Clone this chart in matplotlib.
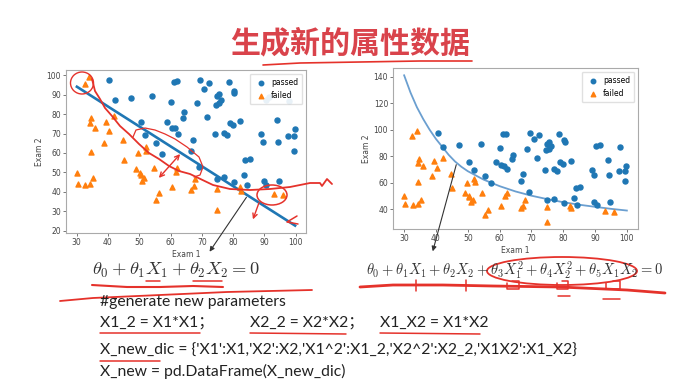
import numpy as np
import matplotlib
matplotlib.use("Agg")
import matplotlib.pyplot as plt
from matplotlib.patches import Ellipse

plt.rcParams['mathtext.fontset'] = 'cm'

# exam scores (ex2data1-like)
exam1 = [34.6, 30.3, 35.8, 60.2, 79.0, 45.1, 61.1, 75.0, 76.1, 84.4,
         95.9, 75.0, 82.3, 69.4, 39.5, 54.0, 69.1, 67.9, 70.7, 77.0,
         67.4, 89.7, 50.5, 34.2, 77.9, 62.3, 80.2, 93.1, 61.8, 38.8,
         61.4, 85.4, 52.1, 52.0, 40.2, 54.6, 33.9, 64.2, 74.8, 34.2,
         83.9, 51.5, 94.4, 82.4, 51.0, 62.2, 77.2, 97.8, 62.1, 91.6,
         79.9, 99.3, 90.5, 34.5, 50.3, 49.6, 97.6, 32.6, 74.2, 71.8,
         75.4, 35.3, 56.3, 30.1, 44.7, 66.6, 40.5, 49.1, 80.3, 66.7,
         32.7, 64.0, 72.3, 60.5, 58.8, 99.8, 47.3, 50.5, 60.5, 82.2,
         88.9, 94.8, 67.3, 57.2, 80.4, 68.5, 42.1, 75.5, 78.6, 52.3,
         94.1, 90.4, 55.5, 74.5, 89.8, 83.5, 42.3, 99.3, 55.3, 74.8]
exam2 = [78.0, 43.9, 72.9, 86.3, 75.3, 56.3, 96.5, 46.6, 87.4, 43.5,
         38.2, 30.6, 76.5, 97.7, 76.0, 89.2, 52.7, 46.7, 92.9, 47.6,
         42.8, 65.8, 48.9, 44.2, 69.0, 70.0, 44.8, 38.8, 50.3, 65.0,
         72.8, 57.1, 63.1, 69.4, 71.2, 52.2, 98.9, 80.9, 41.6, 75.2,
         56.3, 46.9, 65.6, 40.6, 45.8, 52.1, 70.5, 86.7, 96.8, 88.7,
         74.2, 61.0, 43.4, 60.4, 49.8, 59.8, 68.9, 95.6, 69.8, 78.5,
         85.8, 47.0, 39.3, 49.6, 66.5, 41.1, 97.5, 51.9, 92.1, 61.0,
         43.3, 78.0, 96.2, 73.1, 75.9, 72.4, 88.5, 75.8, 42.5, 42.7,
         69.8, 45.7, 66.6, 59.5, 91.0, 85.6, 78.8, 90.4, 96.6, 60.8,
         77.2, 87.5, 35.6, 84.8, 45.4, 48.4, 87.1, 68.8, 64.9, 89.5]
passed = [0,0,0,1,1,0,1,1,1,1, 0,0,1,1,0,1,1,0,1,1, 0,1,0,0,1,1,1,0,0,0,
          1,1,0,1,0,0,0,1,0,0, 1,0,1,0,0,0,1,1,1,1, 1,1,1,0,0,0,1,0,1,1,
          1,0,0,0,0,0,1,0,1,1, 0,1,1,1,1,1,1,1,0,0, 1,1,1,1,1,1,0,1,1,0,
          1,1,0,1,1,1,1,1,1,1]

# linear boundary (left) and 2nd-order boundary (right)
lin_x = [30.1, 99.8]
lin_y = [94.1, 22.6]
curve_x = [30, 32, 34, 36, 38, 40, 42, 44, 46, 48, 50, 55, 60, 65, 70, 75, 80, 85, 90, 95, 100]
curve_y = [141, 128, 117, 108, 100, 93, 87, 81, 76, 72, 68.7, 62.3, 57.4, 53.4, 50.2, 47.6, 45.3, 43.4, 41.8, 40.3, 39]

title = "生成新的属性数据"
eq_left = r"$\theta_0+\theta_1X_1+\theta_2X_2=0$"
eq_right = r"$\theta_0+\theta_1X_1+\theta_2X_2+\theta_3X_1^2+\theta_4X_2^2+\theta_5X_1X_2=0$"
code_lines = ["#generate new parameters",
              "X_new_dic = {'X1':X1,'X2':X2,'X1^2':X1_2,'X2^2':X2_2,'X1X2':X1_X2}",
              "X_new = pd.DataFrame(X_new_dic)"]
code_row = ["X1_2 = X1*X1；", "X2_2 = X2*X2；", "X1_X2 = X1*X2"]

# hand-drawn red ink, in screen pixels (x right, y down)
ink_title = [(263, 65), (300, 63), (360, 62), (420, 61), (472, 61)]
ink_curve = [(92, 79), (95, 91), (100, 99), (105, 108), (112, 116), (120, 126), (129, 134),
             (139, 144), (149, 153), (159, 159), (169, 166), (179, 171), (190, 174),
             (213, 185), (230, 189), (250, 190), (270, 189), (290, 187), (310, 183),
             (320, 183), (322, 186), (327, 179), (332, 184)]
ink_loop = [(133, 137), (136, 130), (145, 128), (155, 130), (165, 134), (175, 139),
            (187, 147), (199, 157), (203, 167), (200, 175), (194, 177)]
ink_end = [(297, 216), (287, 222), (298, 224)]
ink_eq_left = [(92, 285), (127, 287), (160, 287), (193, 286), (223, 287)]
ink_eq_left2 = [(60, 301), (93, 298), (160, 295), (227, 292), (312, 290)]
ink_x1 = [(146, 281), (160, 281)]
ink_x2 = [(193, 281), (222, 281)]
ink_eq_right = [(360, 287), (393, 285), (443, 285), (493, 286), (560, 287), (627, 290), (665, 293)]
ink_ticks = [[(416, 280), (416, 291)], [(466, 280), (466, 291)]]
ink_boxes = [[(507, 283), (507, 289), (519, 289), (519, 281), (512, 281)],
             [(557, 283), (557, 289), (568, 289), (568, 281), (562, 281)],
             [(606, 283), (606, 289), (620, 289), (620, 281), (613, 281)]]
ink_small = [[(558, 296), (570, 296)], [(603, 299), (620, 299)]]
ink_code = [[(100, 333), (200, 333)], [(250, 333), (346, 334)],
            [(380, 333), (480, 334)], [(100, 361), (160, 361)]]
red = '#e5322b'

fig = plt.figure(figsize=(6.78, 3.86), dpi=100)
fig.patch.set_facecolor('white')

x1 = np.array(exam1)
x2 = np.array(exam2)
ok = np.array(passed) == 1


def scatter_panel(ax):
    ax.scatter(x1[ok], x2[ok], s=13, c='#1f77b4', marker='o', label='passed', zorder=3)
    ax.scatter(x1[~ok], x2[~ok], s=13, c='#ff7f0e', marker='^', label='failed', zorder=3)
    ax.set_xlabel('Exam 1', fontsize=5.5, labelpad=2, color='#444444')
    ax.set_ylabel('Exam 2', fontsize=5.5, labelpad=2, color='#444444')
    ax.tick_params(labelsize=5.5, length=2, width=0.5, pad=1.5, colors='#444444')
    for s in ax.spines.values():
        s.set_color('#aaaaaa')
        s.set_linewidth(0.8)
    ax.legend(loc='upper right', fontsize=5.5, markerscale=0.9, handletextpad=0.3,
              borderpad=0.5, labelspacing=0.6, framealpha=0.9, edgecolor='#dddddd')


ax1 = fig.add_axes([66 / 678, 1 - 233 / 386, 240 / 678, 163 / 386])
scatter_panel(ax1)
ax1.plot(lin_x, lin_y, color='#1f77b4', lw=1.9, zorder=2)
ax1.set_xticks([30, 40, 50, 60, 70, 80, 90, 100])
ax1.set_yticks([20, 30, 40, 50, 60, 70, 80, 90, 100])

ax2 = fig.add_axes([393 / 678, 1 - 229 / 386, 245 / 678, 161 / 386])
scatter_panel(ax2)
ax2.plot(curve_x, curve_y, color='#6b9fd0', lw=1.3, zorder=2)
ax2.set_xticks([30, 40, 50, 60, 70, 80, 90, 100])
ax2.set_yticks([40, 60, 80, 100, 120, 140])

# overlay in pixel coordinates for text and ink
ov = fig.add_axes([0, 0, 1, 1], zorder=10)
ov.set_xlim(0, 678)
ov.set_ylim(386, 0)
ov.axis('off')
ov.patch.set_alpha(0)

ov.text(350, 43, title, ha='center', va='center', fontsize=21.6, fontweight='bold',
        color='#d9434b', family=['Noto Sans CJK SC', 'DejaVu Sans'])
ov.text(92, 270, eq_left, ha='left', va='center', fontsize=13.3, color='#333333')
ov.text(366, 270, eq_right, ha='left', va='center', fontsize=10.5, color='#333333')

code_font = ['Lato', 'Noto Sans CJK SC', 'DejaVu Sans']
code_size = 11.3
ov.text(100, 302, code_lines[0], ha='left', va='center', fontsize=code_size, family=code_font, color='#222222')
for xpos, s in zip([100, 250, 380], code_row):
    ov.text(xpos, 323, s, ha='left', va='center', fontsize=code_size, family=code_font, color='#222222')
ov.text(100, 351, code_lines[1], ha='left', va='center', fontsize=code_size, family=code_font, color='#222222')
ov.text(100, 371, code_lines[2], ha='left', va='center', fontsize=code_size, family=code_font, color='#222222')

# black pointer arrows
ov.annotate('', xy=(208, 254), xytext=(248, 195),
            arrowprops=dict(arrowstyle='-|>', color='#333333', lw=0.8, mutation_scale=7))
ov.annotate('', xy=(432, 254), xytext=(457, 162),
            arrowprops=dict(arrowstyle='-|>', color='#333333', lw=0.8, mutation_scale=7))


def stroke(pts, lw=1.1):
    p = np.array(pts)
    ov.plot(p[:, 0], p[:, 1], color=red, lw=lw, solid_capstyle='round', solid_joinstyle='round')


stroke(ink_title, 1.2)
stroke(ink_curve, 1.3)
stroke(ink_loop, 0.9)
stroke(ink_end, 1.1)
stroke(ink_eq_left, 1.5)
stroke(ink_eq_left2, 1.3)
stroke(ink_x1, 1.1)
stroke(ink_x2, 1.1)
stroke(ink_eq_right, 2.0)
for t in ink_ticks + ink_boxes + ink_small + ink_code:
    stroke(t, 1.1)

ov.add_patch(Ellipse((82, 83), 23, 22, fill=False, ec=red, lw=1.0))
ov.add_patch(Ellipse((272, 195), 30, 20, fill=False, ec=red, lw=1.1))
ov.add_patch(Ellipse((562, 271), 150, 28, fill=False, ec=red, lw=1.3))
ov.annotate('', xy=(157, 180), xytext=(182, 152),
            arrowprops=dict(arrowstyle='<->', color=red, lw=1.0, mutation_scale=8))
ov.annotate('', xy=(252, 222), xytext=(260, 200),
            arrowprops=dict(arrowstyle='->', color=red, lw=1.0, mutation_scale=8))

fig.savefig('out.png', dpi=100)
